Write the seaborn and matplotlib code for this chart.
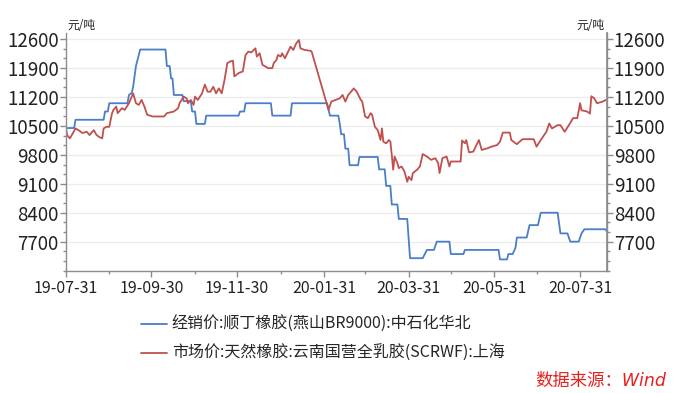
import matplotlib
matplotlib.use("Agg")
import matplotlib.pyplot as plt
import matplotlib.dates as mdates
from matplotlib.ticker import MultipleLocator
import seaborn as sns
import pandas as pd

# Series 1: 经销价 顺丁橡胶 (step-like dealer price)
br_dates = [
    "2019-07-31", "2019-08-06", "2019-08-07", "2019-08-27", "2019-08-28", "2019-08-30",
    "2019-08-31", "2019-09-13", "2019-09-14", "2019-09-16", "2019-09-17", "2019-09-19",
    "2019-09-22", "2019-10-10", "2019-10-11", "2019-10-13", "2019-10-14", "2019-10-15",
    "2019-10-16", "2019-10-22", "2019-10-23", "2019-10-28", "2019-10-29", "2019-10-31",
    "2019-11-01", "2019-11-07", "2019-11-08", "2019-12-01", "2019-12-02", "2019-12-05",
    "2019-12-06", "2019-12-24", "2019-12-25", "2020-01-07", "2020-01-08", "2020-02-02",
    "2020-02-03", "2020-02-04", "2020-02-10", "2020-02-11", "2020-02-12", "2020-02-14",
    "2020-02-15", "2020-02-17", "2020-02-18", "2020-02-24", "2020-02-25", "2020-03-09",
    "2020-03-10", "2020-03-14", "2020-03-15", "2020-03-18", "2020-03-19", "2020-03-23",
    "2020-03-24", "2020-03-30", "2020-04-01", "2020-04-10", "2020-04-13", "2020-04-18",
    "2020-04-20", "2020-04-29", "2020-04-30", "2020-05-09", "2020-05-10", "2020-06-03",
    "2020-06-04", "2020-06-09", "2020-06-10", "2020-06-13", "2020-06-15", "2020-06-16",
    "2020-06-23", "2020-06-25", "2020-07-01", "2020-07-03", "2020-07-15", "2020-07-17",
    "2020-07-22", "2020-07-24", "2020-07-30", "2020-08-01", "2020-08-03", "2020-08-18",
    "2020-08-19",
]
br_price = [
    10450, 10450, 10650, 10650, 10850, 10850,
    11050, 11050, 11250, 11300, 11450, 11950,
    12350, 12350, 11950, 11950, 11650, 11650,
    11250, 11250, 11100, 11100, 10850, 10850,
    10550, 10550, 10750, 10750, 10850, 10850,
    11050, 11050, 10750, 10750, 11050, 11050,
    10900, 10750, 10750, 10550, 10300, 10300,
    9950, 9950, 9550, 9550, 9750, 9750,
    9450, 9450, 9050, 9050, 8600, 8600,
    8250, 8250, 7300, 7300, 7500, 7500,
    7700, 7700, 7400, 7400, 7500, 7500,
    7270, 7270, 7400, 7400, 7550, 7800,
    7800, 8100, 8100, 8400, 8400, 7900,
    7900, 7700, 7700, 7900, 8000, 8000,
    7950,
]

# Series 2: 市场价 天然橡胶 SCRWF 上海
nr_dates = [
    "2019-07-31", "2019-08-01", "2019-08-03", "2019-08-07", "2019-08-09", "2019-08-12",
    "2019-08-15", "2019-08-17", "2019-08-20", "2019-08-22", "2019-08-24", "2019-08-26",
    "2019-08-27", "2019-08-29", "2019-08-31", "2019-09-02", "2019-09-03", "2019-09-05",
    "2019-09-06", "2019-09-09", "2019-09-11", "2019-09-14", "2019-09-16", "2019-09-17",
    "2019-09-19", "2019-09-21", "2019-09-23", "2019-09-25", "2019-09-27", "2019-10-01",
    "2019-10-09", "2019-10-11", "2019-10-16", "2019-10-19", "2019-10-20", "2019-10-23",
    "2019-10-25", "2019-10-26", "2019-10-28", "2019-10-30", "2019-10-31", "2019-11-02",
    "2019-11-05", "2019-11-07", "2019-11-09", "2019-11-11", "2019-11-13", "2019-11-15",
    "2019-11-17", "2019-11-19", "2019-11-21", "2019-11-23", "2019-11-25", "2019-11-27",
    "2019-11-28", "2019-12-01", "2019-12-04", "2019-12-06", "2019-12-08", "2019-12-10",
    "2019-12-13", "2019-12-14", "2019-12-16", "2019-12-18", "2019-12-20", "2019-12-22",
    "2019-12-25", "2019-12-26", "2019-12-28", "2019-12-29", "2019-12-31", "2020-01-01",
    "2020-01-03", "2020-01-05", "2020-01-07", "2020-01-09", "2020-01-11", "2020-01-13",
    "2020-01-14", "2020-01-17", "2020-01-21", "2020-01-22", "2020-02-03", "2020-02-05",
    "2020-02-08", "2020-02-11", "2020-02-13", "2020-02-15", "2020-02-17", "2020-02-21",
    "2020-02-23", "2020-02-26", "2020-02-27", "2020-02-29", "2020-03-02", "2020-03-04",
    "2020-03-05", "2020-03-07", "2020-03-09", "2020-03-11", "2020-03-12", "2020-03-13",
    "2020-03-15", "2020-03-17", "2020-03-18", "2020-03-19", "2020-03-20", "2020-03-21",
    "2020-03-23", "2020-03-24", "2020-03-26", "2020-03-28", "2020-03-30", "2020-03-31",
    "2020-04-02", "2020-04-03", "2020-04-06", "2020-04-08", "2020-04-10", "2020-04-13",
    "2020-04-16", "2020-04-19", "2020-04-21", "2020-04-22", "2020-04-24", "2020-04-27",
    "2020-04-29", "2020-04-30", "2020-05-07", "2020-05-08", "2020-05-10", "2020-05-11",
    "2020-05-13", "2020-05-16", "2020-05-20", "2020-05-22", "2020-05-26", "2020-05-29",
    "2020-06-02", "2020-06-04", "2020-06-06", "2020-06-11", "2020-06-12", "2020-06-16",
    "2020-06-20", "2020-06-28", "2020-06-30", "2020-07-03", "2020-07-07", "2020-07-09",
    "2020-07-11", "2020-07-15", "2020-07-17", "2020-07-20", "2020-07-23", "2020-07-26",
    "2020-07-29", "2020-07-31", "2020-08-01", "2020-08-05", "2020-08-07", "2020-08-08",
    "2020-08-10", "2020-08-12", "2020-08-16", "2020-08-19",
]
nr_price = [
    10500, 10280, 10200, 10440, 10400, 10330,
    10360, 10280, 10400, 10280, 10230, 10200,
    10440, 10480, 10480, 10810, 10890, 10970,
    10810, 10930, 10890, 11050, 11210, 11290,
    11050, 11010, 11130, 10970, 10770, 10730,
    10730, 10810, 10850, 10930, 11050, 11210,
    11170, 11050, 11130, 11010, 11210, 11130,
    11290, 11500, 11330, 11330, 11450, 11290,
    11410, 11290, 11610, 12020, 12060, 12080,
    11700, 11780, 11820, 12220, 12300, 12280,
    12380, 12180, 12260, 11980, 11940, 11900,
    11900, 12020, 12100, 12220, 12180, 12260,
    12140, 12280, 12420, 12340, 12500, 12580,
    12380, 12340, 12320, 12300, 10890, 11090,
    11130, 11170, 11250, 11090, 11250, 11410,
    11330, 11130, 11090, 10730, 10690, 10810,
    10770, 10480, 10400, 10160, 10440, 10120,
    10080, 10160, 10120, 9800, 9440, 9760,
    9600, 9480, 9520, 9400, 9150, 9270,
    9190, 9360, 9440, 9520, 9820, 9760,
    9680, 9720, 9600, 9360, 9720, 9760,
    9520, 9640, 9640, 10150, 10080, 10160,
    9860, 9880, 10160, 9920, 9960, 10000,
    10040, 10120, 10340, 10340, 10160, 10060,
    10180, 10180, 10000, 10160, 10360, 10560,
    10440, 10520, 10520, 10360, 10520, 10690,
    10690, 11050, 10880, 10850, 10800, 11220,
    11170, 11050, 11090, 11140,
]

br_label = "经销价:顺丁橡胶(燕山BR9000):中石化华北"
nr_label = "市场价:天然橡胶:云南国营全乳胶(SCRWF):上海"
y_ticks = [7700, 8400, 9100, 9800, 10500, 11200, 11900, 12600]
x_ticks = ["2019-07-31", "2019-09-30", "2019-11-30", "2020-01-31",
           "2020-03-31", "2020-05-31", "2020-07-31"]
x_minor = ["2019-08-31", "2019-10-31", "2019-12-31", "2020-02-29",
           "2020-04-30", "2020-06-30"]

br = pd.DataFrame({"date": pd.to_datetime(br_dates), "price": br_price})
nr = pd.DataFrame({"date": pd.to_datetime(nr_dates), "price": nr_price})

sns.set_theme(style="white")
plt.rcParams["font.family"] = ["Noto Sans CJK SC", "DejaVu Sans"]
plt.rcParams["axes.unicode_minus"] = False

blue = "#4A7EC7"
red = "#C0504D"
spine_c = "#8c8c8c"

fig, ax = plt.subplots(figsize=(6.75, 3.93), dpi=100)
fig.subplots_adjust(left=0.0973, right=0.899, bottom=0.3115, top=0.916)

sns.lineplot(data=br, x="date", y="price", ax=ax, color=blue, linewidth=1.3, label=br_label)
sns.lineplot(data=nr, x="date", y="price", ax=ax, color=red, linewidth=1.3, label=nr_label)

ax.set_xlim(pd.Timestamp("2019-07-31"), pd.Timestamp("2020-08-19"))
ax.set_ylim(7000, 12750)
ax.set_xlabel("")
ax.set_ylabel("")

ax.set_yticks(y_ticks)
ax.set_yticklabels([str(v) for v in y_ticks])
ax.yaxis.set_minor_locator(MultipleLocator(700 / 3))
ax.set_xticks(pd.to_datetime(x_ticks))
ax.set_xticks(pd.to_datetime(x_minor), minor=True)
ax.xaxis.set_major_formatter(mdates.DateFormatter("%y-%m-%d"))

ax.grid(axis="y", color="#ececec", linewidth=0.9)
ax.grid(axis="x", visible=False)
for side in ["left", "bottom", "right"]:
    ax.spines[side].set_color(spine_c)
    ax.spines[side].set_linewidth(1.0)
ax.spines["top"].set_visible(False)

ax.tick_params(axis="both", which="major", direction="out", length=4, width=1,
               color=spine_c, labelcolor="#222222")
ax.tick_params(axis="both", which="minor", direction="out", length=2.5, width=1,
               color=spine_c)
ax.tick_params(axis="y", labelsize=13.5, pad=1)
ax.tick_params(axis="x", labelsize=11.5, pad=3)
ax.tick_params(axis="y", which="both", left=True)
ax.tick_params(axis="x", which="both", bottom=True)

ax2 = ax.twinx()
ax2.set_ylim(ax.get_ylim())
ax2.set_yticks(y_ticks)
ax2.set_yticklabels([str(v) for v in y_ticks])
ax2.yaxis.set_minor_locator(MultipleLocator(700 / 3))
ax2.tick_params(axis="y", which="major", direction="out", length=4, width=1,
                color=spine_c, labelcolor="#222222", labelsize=13.5, pad=1, right=True)
ax2.tick_params(axis="y", which="minor", direction="out", length=2.5, width=1,
                color=spine_c, right=True)
for side in ["left", "bottom", "top"]:
    ax2.spines[side].set_visible(False)
ax2.spines["right"].set_color(spine_c)
ax2.grid(False)

ax.text(0.004, 1.005, "元/吨", transform=ax.transAxes, ha="left", va="bottom",
        fontsize=8.5, color="#222222")
ax.text(0.996, 1.005, "元/吨", transform=ax.transAxes, ha="right", va="bottom",
        fontsize=8.5, color="#222222")

handles, labels = ax.get_legend_handles_labels()
ax.get_legend().remove()
fig.legend(handles, labels, loc="upper left", bbox_to_anchor=(0.2, 0.212),
           frameon=False, fontsize=11.5, handlelength=1.6, handletextpad=0.3,
           labelspacing=0.75, borderaxespad=0)

fig.text(0.987, 0.008, "数据来源：Wind", ha="right", va="bottom", color="#e8211e",
         fontsize=12.5, style="italic", family=["DejaVu Sans", "Noto Sans CJK SC"])

fig.savefig("out.png", dpi=100)
